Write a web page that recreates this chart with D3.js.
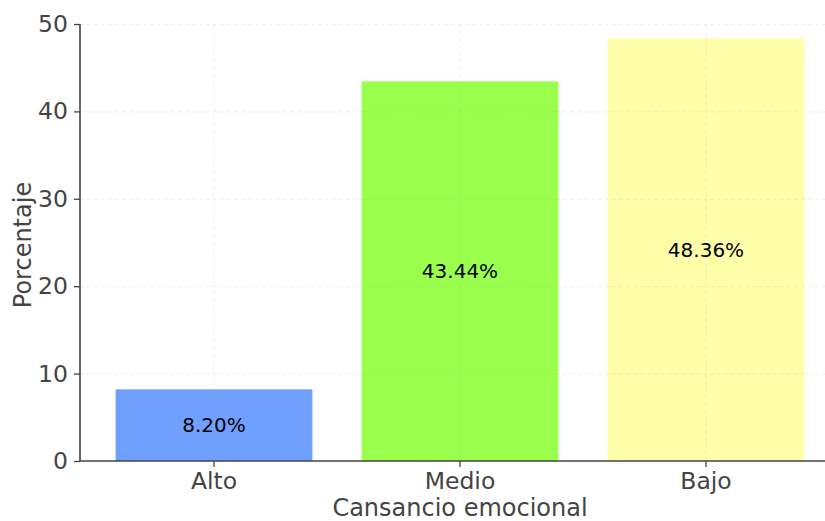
<!DOCTYPE html>
<html>
<head>
<meta charset="utf-8">
<script src="https://cdn.jsdelivr.net/npm/d3@7"></script>
<style>
  body { margin: 0; background: #fff; }
  svg { font-family: "DejaVu Sans", sans-serif; }
</style>
</head>
<body>
<svg id="chart" width="825" height="521"></svg>
<script>
var categories = ["Alto", "Medio", "Bajo"];
var values = [8.20, 43.44, 48.36];
var barColors = ["#70a0ff", "#9aff4c", "#ffffaa"];
var yTicks = [0, 10, 20, 30, 40, 50];

var svg = d3.select("#chart");
var plotLeft = 80, plotBottom = 461, plotTop = 24, plotRight = 825;

var x = d3.scaleBand()
    .domain(categories)
    .range([91, 829])
    .paddingInner(0.2)
    .paddingOuter(0.1);

var y = d3.scaleLinear()
    .domain([0, 50])
    .range([plotBottom, plotTop]);

// bars
svg.append("g").selectAll("rect")
  .data(categories)
  .enter().append("rect")
    .attr("x", function(d) { return x(d); })
    .attr("y", function(d, i) { return y(values[i]); })
    .attr("width", x.bandwidth())
    .attr("height", function(d, i) { return plotBottom - y(values[i]); })
    .attr("fill", function(d, i) { return barColors[i]; });

// grid on top, very faint dashed
var grid = svg.append("g").attr("stroke", "#aaa").attr("stroke-opacity", 0.2)
    .attr("stroke-dasharray", "4,3").attr("stroke-width", 1);
grid.selectAll("line.h")
  .data(yTicks.slice(1))
  .enter().append("line")
    .attr("x1", plotLeft).attr("x2", plotRight)
    .attr("y1", function(d) { return y(d) + 0.5; })
    .attr("y2", function(d) { return y(d) + 0.5; });
grid.selectAll("line.v")
  .data(categories)
  .enter().append("line")
    .attr("x1", function(d) { return x(d) + x.bandwidth() / 2; })
    .attr("x2", function(d) { return x(d) + x.bandwidth() / 2; })
    .attr("y1", plotTop).attr("y2", plotBottom);

// value labels
svg.append("g").selectAll("text")
  .data(categories)
  .enter().append("text")
    .attr("x", function(d) { return x(d) + x.bandwidth() / 2; })
    .attr("y", function(d, i) { return y(values[i] / 2); })
    .attr("dy", "0.35em")
    .attr("text-anchor", "middle")
    .attr("font-size", "20px")
    .attr("fill", "#000")
    .text(function(d, i) { return values[i].toFixed(2) + "%"; });

// y axis
var yAxis = svg.append("g")
    .attr("transform", "translate(" + plotLeft + ",0)")
    .call(d3.axisLeft(y).tickValues(yTicks).tickSize(6).tickPadding(6));
yAxis.select(".domain").attr("stroke", "#444").attr("stroke-width", 1.6)
    .attr("d", "M0," + plotTop + "V" + plotBottom);
yAxis.selectAll(".tick line").attr("stroke", "#444").attr("stroke-width", 1.3);
yAxis.selectAll(".tick text").attr("font-size", "23.5px").attr("fill", "#444")
    .attr("font-family", "DejaVu Sans, sans-serif");

// x axis
var xAxis = svg.append("g")
    .attr("transform", "translate(0," + plotBottom + ")")
    .call(d3.axisBottom(x).tickSize(6).tickPadding(5));
xAxis.select(".domain").attr("stroke", "#444").attr("stroke-width", 1.6)
    .attr("d", "M" + plotLeft + ",0H" + plotRight);
xAxis.selectAll(".tick line").attr("stroke", "#444").attr("stroke-width", 1.3);
xAxis.selectAll(".tick text").attr("font-size", "23.5px").attr("fill", "#444")
    .attr("font-family", "DejaVu Sans, sans-serif");

// axis titles
svg.append("text")
    .attr("x", 460).attr("y", 516)
    .attr("text-anchor", "middle")
    .attr("font-size", "24px").attr("fill", "#444")
    .text("Cansancio emocional");

svg.append("text")
    .attr("transform", "translate(31,245) rotate(-90)")
    .attr("text-anchor", "middle")
    .attr("font-size", "24px").attr("fill", "#444")
    .text("Porcentaje");
</script>
</body>
</html>
